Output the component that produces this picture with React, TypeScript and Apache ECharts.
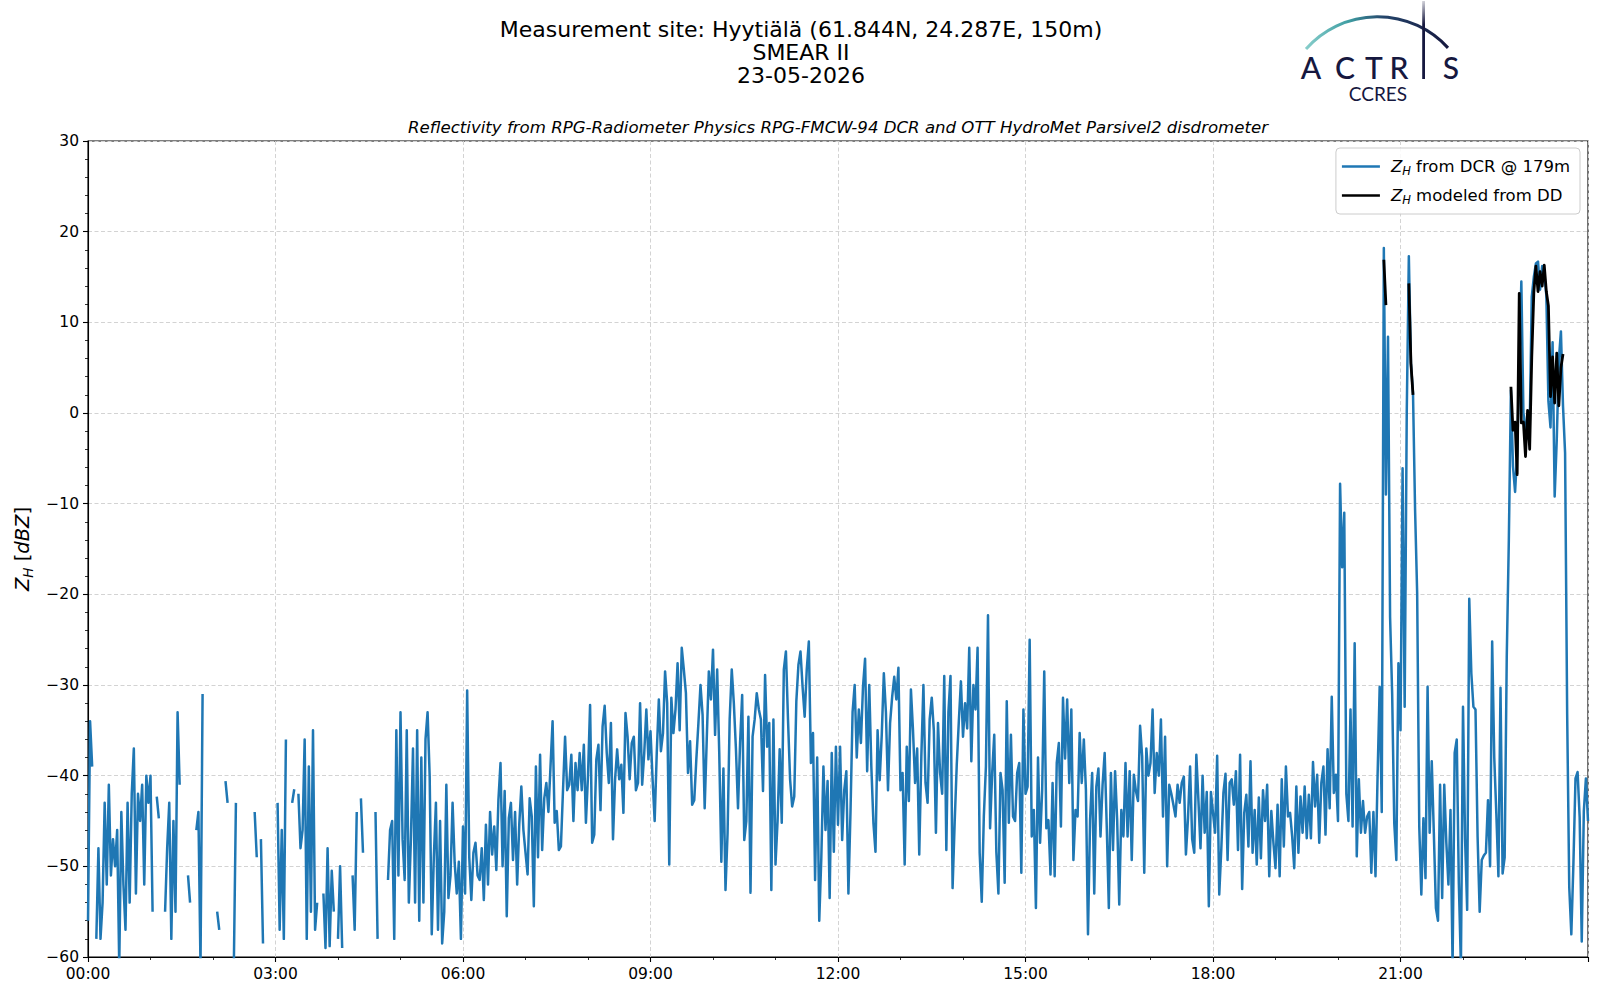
import React, { useEffect, useRef } from "react";
import * as echarts from "echarts";

// Time grid: one DCR value every 2 minutes, starting 00:00
const STEP_MIN = 2;

// Z_H from DCR @ 179m (dBZ), 00:00-06:00
const dcr00to06: (number | null)[] = [
  -56, -34, -39, null, -58, -48, -58, -54, -43, -52,
  -41, -51, -47, -50, -46, -61, -44, -52, -57, -43,
  -54, -42, -37, -53, -42, -45, -41, -52, -40, -43,
  -40, -55, null, -42.3, -44.7, null, null, -55, -48, -43,
  -58, -45, -55, -33, -41, null, null, null, -51, -54,
  null, null, -46, -44, -61, -31, null, null, null, null,
  null, null, -55, -57, null, null, -40.6, -43, null, null,
  -61, -43, null, null, null, null, null, null, null, null,
  -44, -49, null, -47, -58.5, null, null, null, null, null,
  null, -43, -57, -46, -58, -36, null, null, -43, -41.5,
  null, -42, -48, -46, -36, -58, -39, -55, -35, -57,
  -54, null, null, -53, -59, -48, -58.8, -50.5, -55, null,
  -58, -50, -59, null, null, null, null, -51, -57, -44,
  null, -42.5, -48.5, null, null, null, null, null, -44, -58,
  null, null, null, null, -51.5, -46, -45, -58, -35, -51,
  -33, -47, -51.5, -35, -54, -47, -37, -54, -35, -56,
  -38, -54, -36, -33, -40, -57.5, -49, -43, -57, -45,
  -58.5, -55, -41, -53.5, -51, -43, -49.6, -53, -49.5, -58,
];

// 06:00-12:00
const dcr06to12: (number | null)[] = [
  -45.6, -53, -30.6, -49, -53.7, -48.5, -47.4, -51, -51.5, -48,
  -53.7, -45.4, -52, -44, -48.7, -45.6, -50.4, -42.7, -38.6, -50,
  -41.7, -55.5, -44.7, -43, -49.3, -44, -52, -45.4, -41.2, -46,
  -48.5, -50.9, -42.5, -44.5, -54.4, -39, -49, -37.7, -48.2, -42.5,
  -40.8, -44, -39, -34, -45.2, -43.9, -48.2, -47.8, -41.6, -35.7,
  -41.6, -41, -37.7, -45, -38.6, -41.6, -37.5, -41.6, -36.6, -45.2,
  -40, -32.2, -47.4, -46.5, -38.2, -36.6, -43.8, -34.6, -32.3, -37.5,
  -40.8, -34.2, -47, -40.4, -37.1, -40.4, -38.8, -44.1, -33.1, -35.7,
  -40.4, -36.4, -35.7, -41.6, -40.8, -32, -41, -37.5, -32.7, -38.2,
  -35.1, -40.4, -45, -37.5, -31.6, -37.3, -35.3, -28.5, -32, -49.8,
  -31.4, -35.3, -32.7, -27.6, -35, -25.9, -28.3, -30.9, -39.7, -36.2,
  -43.2, -42.7, -38.2, -34.2, -30, -33.3, -43.6, -36, -28.5, -31.6,
  -26.1, -35.5, -28.3, -37.5, -49.5, -39.2, -52.6, -46.3, -33.8, -28.3,
  -32, -37, -43.6, -36.4, -31.1, -47.1, -45, -33.5, -52.9, -35.7,
  -33.8, -30.9, -32.7, -33.8, -41.7, -28.9, -36.8, -34.2, -52.6, -33.8,
  -49.8, -45, -37.1, -45.2, -28.3, -26.3, -33.8, -40.4, -43.4, -42.3,
  -31.8, -27.8, -26.3, -30.2, -33.5, -28.3, -25.2, -38.6, -35.3, -51.5,
  -38, -56, -49, -39, -46, -40.6, -53.5, -37.5, -48.4, -36.8,
];

// 12:00-18:00
const dcr12to18: (number | null)[] = [
  -45.4, -36.8, -47.1, -41.6, -39.5, -53, -44, -33, -30, -38,
  -32.7, -36.4, -30.2, -27.1, -39.5, -30, -39, -45.2, -48.4, -35,
  -40.5, -35.5, -28.7, -33, -41.6, -34.2, -31.3, -29.1, -31.6, -28.1,
  -41.6, -39.7, -49.8, -36.8, -42.8, -30.5, -35, -40.8, -37, -48.7,
  -37.9, -30, -40.8, -43, -33.8, -31.4, -35, -46.3, -34.2, -39.7,
  -42, -29, -48.2, -33, -29, -52.4, -45.2, -38.8, -34, -29.6,
  -35.7, -32, -34.8, -25.9, -38.4, -30, -32.7, -25.9, -48.5, -53.9,
  -44.5, -39, -22.3, -45.8, -39.7, -35.5, -48.4, -53, -39.7, -41.6,
  -51.8, -31.8, -45.2, -35.5, -44.5, -45, -39.7, -38.6, -50.7, -32.7,
  -42, -41.2, -25, -46.7, -43.8, -54.6, -38, -47.4, -41.6, -28.5,
  -45.8, -44.9, -50.9, -40.8, -51.1, -38.6, -36.4, -45.6, -31.4, -38.1,
  -31.6, -40.8, -32.7, -49.3, -43.8, -44.5, -35.3, -40.8, -36, -41.6,
  -57.5, -44.9, -39.7, -53, -41.2, -39.2, -46.7, -41, -37.5, -45.6,
  -54.6, -39.7, -48.2, -39.5, -44.9, -54.2, -43.8, -46.7, -38.6, -46.7,
  -39.5, -49.3, -39.9, -41.7, -42.8, -34.5, -37.9, -50.7, -37, -40,
  -38.6, -32.7, -41.9, -37.5, -40, -33.8, -44.5, -35.7, -50, -41,
  -42, -43.2, -44.5, -41, -43, -40.8, -40.1, -48.7, -44.7, -39,
  -47, -48.5, -37.7, -42.7, -48, -40, -46.3, -41.8, -54.4, -41.8,
];

// 18:00-24:00
const dcr18to24: (number | null)[] = [
  -44.1, -46.3, -37.8, -53.1, -48, -41.9, -39.8, -49.3, -40.8, -40.4,
  -43.2, -39.5, -48.2, -37.7, -52.5, -44.1, -42.1, -47.8, -38.4, -48.5,
  -43.8, -49.8, -42.4, -49.1, -41.6, -45, -41, -51.1, -43.9, -47.4,
  -50.2, -43.2, -51.1, -40.4, -47.8, -39, -44.5, -44.1, -46.7, -50.2,
  -41.2, -48.5, -42.3, -46.3, -41.2, -46.9, -42.1, -46.9, -38.5, -43.4,
  -39.9, -47.4, -40.8, -39, -46.5, -37.1, -43.6, -31.3, -41.9, -39.9,
  -45, -7.8, -17, -11, -42, -45, -32.7, -45.6, -25.4, -48.9,
  -40.4, -46.3, -42.8, -46.3, -44.5, -44, -50.7, -44, -51.1, -40,
  -30.2, -44, 18.2, -9, 8.4, -22.5, -31, -45.2, -49.3, -27.6,
  -35, -6.1, -32.4, 0, 17.3, 5.5, 2.2, -10.7, -19.9, -45.6,
  -53.1, -44.7, -51.3, -30.2, -46.3, -38.4, -46.3, -54.6, -56, -41,
  -53.5, -41, -47.4, -52, -43.8, -61, -37.5, -36, -51.9, -61,
  -32.4, -47, -54.8, -20.5, -28.7, -32.4, -32.7, -46.7, -55, -49.3,
  -48.8, -48.5, -42.7, -50, -25.2, -38, -44.2, -51.1, -30.3, -50.8,
  -49, -26.9, -14, 2.5, -5.9, -8.7, -4.4, 5, 14.5, 0,
  -1.6, -2.8, -1.8, 12.8, 15, 16.5, 16.7, 13.6, 16.2, 15.4,
  13, 1.3, -1.6, 7.8, -9.2, -3, 5.8, 9, 0.8, -4.4,
  -33.2, -52.3, -57.5, -49.7, -40.3, -39.6, -44.6, -58.3, -43.9, -40.3, -45,
];

// Z_H modeled from disdrometer (DD): minutes after midnight and values (dBZ)
const ddMinutes = [
  1244, 1246,
  1268, 1270, 1272,
  1366, 1368, 1370, 1372, 1374, 1376, 1378, 1380, 1382, 1384, 1386, 1388, 1390,
  1392, 1394, 1396, 1398, 1400, 1402, 1404, 1406, 1408, 1410, 1412, 1414, 1416,
];
const ddValues = [
  16.9, 11.9,
  14.3, 5.5, 2,
  2.9, -1.9, -1, -6.8, 13.2, -1.1, -1, -4.8, 0.3, -4, 6.1, 13.3, 16.2,
  13.4, 15.6, 14, 16.3, 13.4, 11.8, 1.8, 6.2, 1.1, 6.6, 0.8, 5, 6.5,
];

const xTickLabels = ["00:00", "03:00", "06:00", "09:00", "12:00", "15:00", "18:00", "21:00"];

const titleLines = [
  "Measurement site: Hyytiälä (61.844N, 24.287E, 150m)",
  "SMEAR II",
  "23-05-2026",
];
const subtitle =
  "Reflectivity from RPG-Radiometer Physics RPG-FMCW-94 DCR and OTT HydroMet Parsivel2 disdrometer";

const FONT = "DejaVu Sans";
const NAVY = "#16183f";

export default function App() {
  const ref = useRef<HTMLDivElement>(null);

  useEffect(() => {
    document.body.style.margin = "0";
    const chart = echarts.init(ref.current!, null, { renderer: "svg" });

    const dcr = [...dcr00to06, ...dcr06to12, ...dcr12to18, ...dcr18to24];
    const dcrData = dcr.map((v, i) => [i * STEP_MIN, v == null ? "-" : v]);
    const ddLookup = new Map<number, number>(ddMinutes.map((m, i) => [m, ddValues[i]]));
    const ddData = dcr.map((_, i) => {
      const t = i * STEP_MIN;
      const v = ddLookup.get(t);
      return [t, v === undefined ? "-" : v];
    });

    const richLegend = {
      i: { fontStyle: "italic", fontFamily: FONT, fontSize: 16.5, lineHeight: 21 },
      t: { fontFamily: FONT, fontSize: 16.5, lineHeight: 21 },
      sub: { fontStyle: "italic", fontFamily: FONT, fontSize: 11.5, lineHeight: 11, verticalAlign: "bottom" },
      g: { width: 6 },
    };

    const logoLetters: [string, number][] = [
      ["A", 1311],
      ["C", 1345],
      ["T", 1374],
      ["R", 1399],
      ["S", 1451],
    ];

    const graphic: any[] = [
      ...titleLines.map((t, i) => ({
        type: "text",
        x: 801,
        y: 29 + i * 23,
        style: {
          text: t,
          fontSize: 22,
          fontFamily: FONT,
          fill: "#000",
          align: "center",
          verticalAlign: "middle",
        },
      })),
      {
        type: "text",
        x: 838,
        y: 127,
        style: {
          text: subtitle,
          fontSize: 16.6,
          fontStyle: "italic",
          fontFamily: FONT,
          fill: "#000",
          align: "center",
          verticalAlign: "middle",
        },
      },
      {
        type: "arc",
        shape: { cx: 1377.5, cy: 112, r: 95.3, startAngle: 3.864, endAngle: 5.545, clockwise: true },
        style: {
          stroke: new echarts.graphic.LinearGradient(0, 0, 1, 0, [
            { offset: 0, color: "#86cdca" },
            { offset: 0.3, color: "#3f9ea3" },
            { offset: 0.55, color: "#24446a" },
            { offset: 1, color: NAVY },
          ]),
          lineWidth: 3,
          fill: null,
        },
      },
      {
        type: "rect",
        shape: { x: 1422.2, y: 1, width: 2.8, height: 78 },
        style: {
          fill: new echarts.graphic.LinearGradient(0, 0, 0, 1, [
            { offset: 0, color: "rgba(22,24,63,0.2)" },
            { offset: 0.3, color: NAVY },
            { offset: 1, color: NAVY },
          ]),
        },
      },
      ...logoLetters.map(([ch, x]) => ({
        type: "text",
        x,
        y: 67,
        style: {
          text: ch,
          fontSize: 30,
          fontWeight: 500,
          fontFamily: "Lato",
          fill: NAVY,
          align: "center",
          verticalAlign: "middle",
        },
      })),
      {
        type: "text",
        x: 1378,
        y: 93,
        style: {
          text: "CCRES",
          fontSize: 19,
          fontFamily: "Lato",
          fill: NAVY,
          align: "center",
          verticalAlign: "middle",
        },
      },
    ];

    const option: any = {
      animation: false,
      backgroundColor: "#fff",
      grid: {
        left: 88,
        right: 12,
        top: 141,
        bottom: 43,
        show: true,
        borderColor: "#000",
        borderWidth: 1.1,
        containLabel: false,
      },
      legend: {
        orient: "vertical",
        right: 20,
        top: 148,
        data: [
          { name: "dcr", icon: "rect" },
          { name: "dd", icon: "rect" },
        ],
        itemWidth: 38,
        itemHeight: 2.6,
        itemGap: 8,
        padding: [8, 10, 8, 6],
        backgroundColor: "rgba(255,255,255,0.85)",
        borderColor: "#cccccc",
        borderWidth: 1,
        borderRadius: 4,
        textStyle: { fontFamily: FONT, fontSize: 16.5, color: "#000", lineHeight: 21, rich: richLegend },
        formatter: (name: string) =>
          name === "dcr"
            ? "{g|}{i|Z}{sub|H}{t| from DCR @ 179m}"
            : "{g|}{i|Z}{sub|H}{t| modeled from DD}",
      },
      xAxis: {
        type: "value",
        min: 0,
        max: 1440,
        interval: 180,
        axisLine: { show: true, onZero: false, lineStyle: { color: "#000", width: 1.1 } },
        axisTick: { show: true, length: 5, lineStyle: { color: "#000", width: 1.1 } },
        minorTick: { show: true, splitNumber: 3, length: 3, lineStyle: { color: "#000", width: 0.8 } },
        axisLabel: {
          fontFamily: FONT,
          fontSize: 15.5,
          color: "#000",
          margin: 9,
          showMaxLabel: false,
          formatter: (v: number) => (v < 1440 && v % 180 === 0 ? xTickLabels[v / 180] : ""),
        },
        splitLine: { show: true, lineStyle: { color: "#d3d3d3", type: [4, 2.5], width: 1 } },
      },
      yAxis: {
        type: "value",
        min: -60,
        max: 30,
        interval: 10,
        name: "{i|Z}{sub|H}{t| [}{i|dBZ}{t|]}",
        nameLocation: "middle",
        nameRotate: 90,
        nameGap: 52,
        nameTextStyle: {
          fontFamily: FONT,
          fontSize: 19.5,
          color: "#000",
          rich: {
            i: { fontStyle: "italic", fontFamily: FONT, fontSize: 19.5, lineHeight: 25 },
            t: { fontFamily: FONT, fontSize: 19.5, lineHeight: 25 },
            sub: { fontStyle: "italic", fontFamily: FONT, fontSize: 13.5, lineHeight: 13, verticalAlign: "bottom" },
          },
        },
        axisLine: { show: true, onZero: false, lineStyle: { color: "#000", width: 1.1 } },
        axisTick: { show: true, length: 5, lineStyle: { color: "#000", width: 1.1 } },
        minorTick: { show: true, splitNumber: 5, length: 3, lineStyle: { color: "#000", width: 0.8 } },
        axisLabel: {
          fontFamily: FONT,
          fontSize: 15.5,
          color: "#000",
          margin: 9,
          formatter: (v: number) => (v < 0 ? "\u2212" + Math.abs(v) : String(v)),
        },
        splitLine: { show: true, lineStyle: { color: "#d3d3d3", type: [4, 2.5], width: 1 } },
      },
      series: [
        {
          name: "dcr",
          type: "line",
          data: dcrData,
          symbol: "none",
          showSymbol: false,
          connectNulls: false,
          clip: true,
          color: "#1f77b4",
          itemStyle: { color: "#1f77b4" },
          lineStyle: { color: "#1f77b4", width: 2.5, join: "round" },
          z: 2,
        },
        {
          name: "dd",
          type: "line",
          data: ddData,
          symbol: "none",
          showSymbol: false,
          connectNulls: false,
          clip: true,
          color: "#000",
          itemStyle: { color: "#000" },
          lineStyle: { color: "#000", width: 2.8, join: "round" },
          z: 3,
        },
      ],
      graphic,
    };

    chart.setOption(option);
    return () => chart.dispose();
  }, []);

  return <div ref={ref} style={{ width: 1600, height: 1000 }} />;
}
